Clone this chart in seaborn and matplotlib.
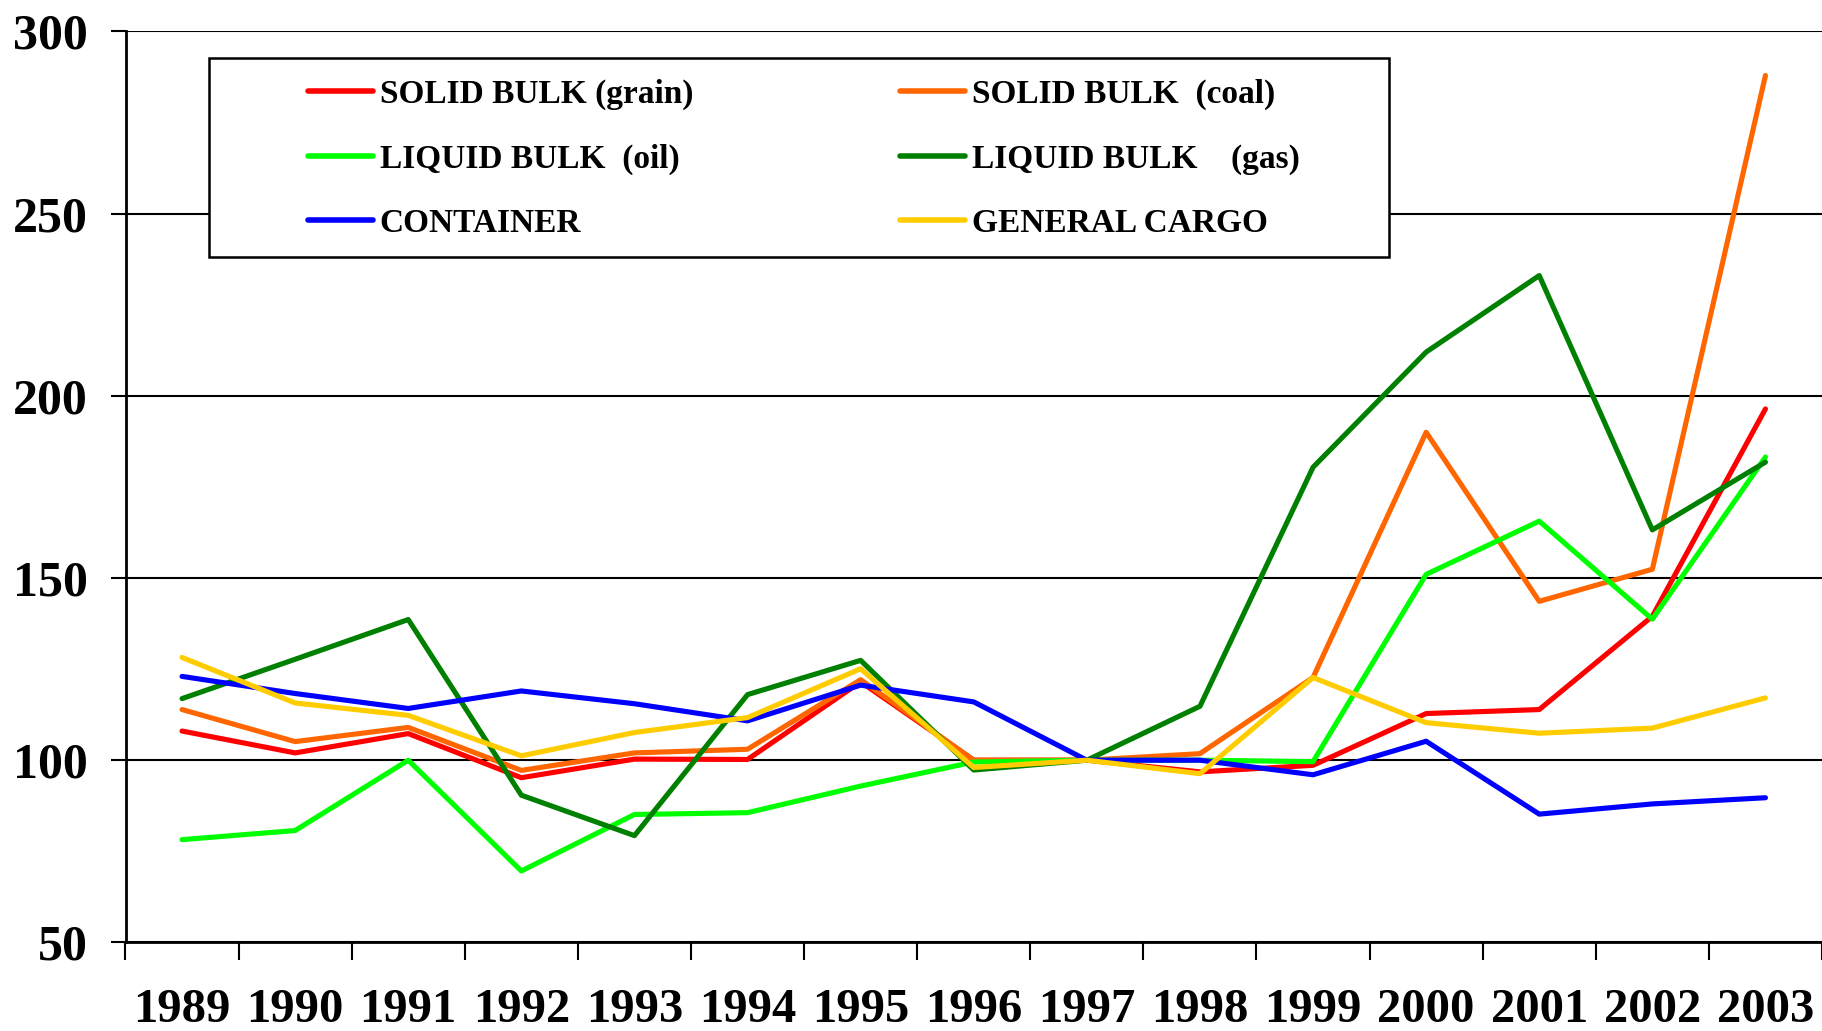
import numpy as np
import pandas as pd
import matplotlib
matplotlib.use("Agg")
import matplotlib.pyplot as plt
from matplotlib.lines import Line2D
from matplotlib.patches import Rectangle
from matplotlib.font_manager import FontProperties
import seaborn as sns

# Data (index, 1997 = 100)
years = list(range(1989, 2004))
grain = [108, 102, 107.3, 95.2, 100.3, 100.2, 121.5, 100, 100, 96.8, 98.6, 112.8, 113.9, 139.5, 196.4]
coal = [113.9, 105.1, 109, 97.2, 102, 103, 122.1, 100, 100, 101.8, 122.7, 190, 143.6, 152.4, 287.9]
oil = [78.2, 80.7, 100, 69.6, 85.1, 85.6, 92.9, 99.5, 100, 100, 99.6, 151, 165.6, 138.7, 183.2]
gas = [116.9, 127.7, 138.6, 90.4, 79.3, 118, 127.4, 97.3, 100, 114.8, 180.4, 212, 233, 163.2, 181.8]
container = [123, 118.3, 114.2, 119, 115.5, 110.8, 120.6, 116, 100, 100, 96, 105.2, 85.2, 88, 89.7]
general = [128.2, 115.7, 112.3, 101.2, 107.6, 111.7, 125.1, 98, 100, 96.3, 122.7, 110.3, 107.4, 108.8, 117.1]

series_names = ["SOLID BULK (grain)", "SOLID BULK  (coal)", "LIQUID BULK  (oil)",
                "LIQUID BULK    (gas)", "CONTAINER", "GENERAL CARGO"]
series_values = [grain, coal, oil, gas, container, general]
colors = ["#FF0000", "#FF6600", "#00FF00", "#008000", "#0000FF", "#FFCC00"]

df = pd.DataFrame({
    "year": years * len(series_names),
    "value": sum(series_values, []),
    "series": [n for n in series_names for _ in years],
})

sns.set_style("white")
plt.rcParams["font.family"] = ["Liberation Serif", "DejaVu Serif"]
plt.rcParams["font.weight"] = "bold"
plt.rcParams["text.color"] = "black"
plt.rcParams["xtick.color"] = "black"
plt.rcParams["ytick.color"] = "black"

W, H = 1822, 1031
fig = plt.figure(figsize=(W / 100, H / 100), dpi=100)
left_px, right_px, top_px, bot_px = 125.5, 1822, 31.4, 942.4
ax = fig.add_axes([left_px / W, 1 - bot_px / H, (right_px - left_px) / W, (bot_px - top_px) / H])

sns.lineplot(data=df, x="year", y="value", hue="series", hue_order=series_names,
             palette=colors, linewidth=3.7, ax=ax, legend=False, sort=False)

ax.set_ylim(50, 300)
ax.set_xlim(1988.5, 2003.5)
ax.set_xlabel("")
ax.set_ylabel("")

ax.set_yticks(np.arange(50, 301, 50))
ax.yaxis.grid(True, color="black", linewidth=1.5)
ax.set_axisbelow(True)
ax.tick_params(axis="y", length=11, width=1.5, color="black", pad=16, labelsize=36,
               left=True, direction="out")

ax.set_xticks(np.arange(1988.5, 2004, 1))
ax.set_xticklabels([])
ax.set_xticks(years, minor=True)
ax.set_xticklabels([str(y) for y in years], minor=True)
ax.tick_params(axis="x", which="major", length=13, width=1.5, color="black",
               bottom=True, direction="out")
ax.tick_params(axis="x", which="minor", length=0, pad=33, labelsize=35)
for lbl in ax.get_xticklabels(minor=True) + ax.get_yticklabels():
    lbl.set_fontweight("bold")

for side in ["top", "right"]:
    ax.spines[side].set_visible(False)
for side in ["left", "bottom"]:
    ax.spines[side].set_color("black")
    ax.spines[side].set_linewidth(2)

# legend box
box = Rectangle((209 / W, 1 - 257 / H), (1389 - 209) / W, (257 - 58) / H,
                transform=fig.transFigure, facecolor="white", edgecolor="black",
                linewidth=1.8, zorder=4, clip_on=False)
ax.add_patch(box)

order = [0, 2, 4, 1, 3, 5]
handles = [Line2D([0], [0], color=colors[i], linewidth=4) for i in order]
labels = [series_names[i] for i in order]
leg = ax.legend(handles, labels, ncol=2, loc="upper left",
                bbox_to_anchor=(308 / W, 1 - 79 / H), bbox_transform=fig.transFigure,
                frameon=False, prop=FontProperties(family="Liberation Serif", weight="bold", size=24),
                handlelength=1.95, handletextpad=0.2, columnspacing=6.2,
                labelspacing=1.0, borderpad=0, borderaxespad=0)
leg.set_zorder(5)

fig.savefig("out.png", dpi=100)
